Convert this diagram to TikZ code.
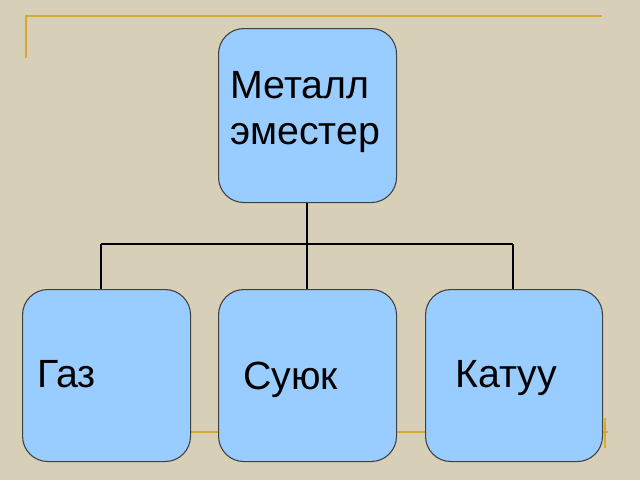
\documentclass[tikz,border=0pt]{standalone}
\usepackage{fontspec}
\setmainfont{Liberation Sans}
\definecolor{bg}{RGB}{216,207,184}
\definecolor{boxfill}{RGB}{153,204,255}
\definecolor{goldc}{RGB}{214,170,50}
\begin{document}
\begin{tikzpicture}[x=0.75pt,y=-0.75pt,
  box/.style={draw=black!75,line width=0.8pt,fill=boxfill,rounded corners=19pt},
  lbl/.style={font=\fontsize{29.5}{34}\selectfont,anchor=west,align=left,inner sep=0},
  gold/.style={draw=goldc,line width=1.6pt},
  conn/.style={draw=black,line width=1.5pt}]
\fill[bg] (0,0) rectangle (640,480);
\useasboundingbox (0,0) rectangle (640,480);
\draw[gold] (26,58) -- (26,16) -- (602,16);
\draw[gold] (150,432) -- (608,432);
\draw[gold] (605,418) -- (605,448);
\coordinate (j) at (307,244);
\coordinate (jl) at (101,244);
\coordinate (jr) at (513,244);
\node[box,minimum width=178*0.75pt,minimum height=174*0.75pt,anchor=north west] (top) at (218,28) {};
\draw[conn] (j |- top.south) -- (j);
\draw[conn] (jl) -- (jr);
\node[box,minimum width=168*0.75pt,minimum height=172*0.75pt,anchor=north west] (gaz) at (22,289) {};
\node[box,minimum width=178*0.75pt,minimum height=172*0.75pt,anchor=north west] (suy) at (218,289) {};
\node[box,minimum width=177*0.75pt,minimum height=172*0.75pt,anchor=north west] (kat) at (425,289) {};
\draw[conn] (jl) -- (jl |- gaz.north);
\draw[conn] (j) -- (j |- suy.north);
\draw[conn] (jr) -- (jr |- kat.north);
\node[lbl] (t1) at (230,112) {Металл\\эместер};
\node[lbl] (t2) at (37,374) {Газ};
\node[lbl] (t3) at (243,380) {Суюк};
\node[lbl] (t4) at (455,378) {Катуу};
\end{tikzpicture}
\end{document}
